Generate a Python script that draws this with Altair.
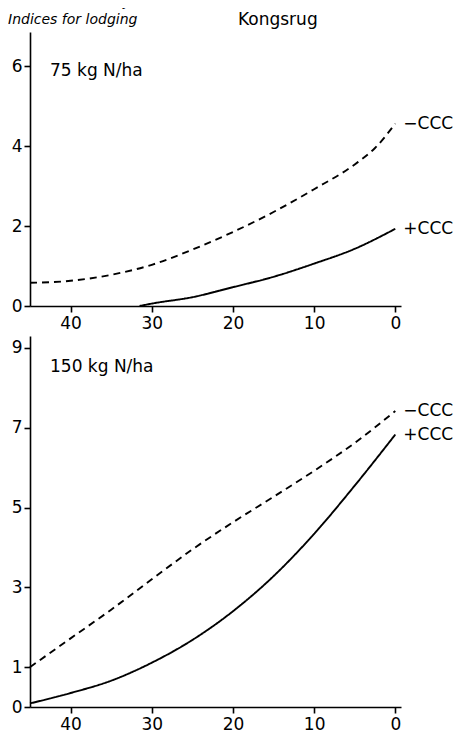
import altair as alt
import pandas as pd

# ---- data ----
x_pts = [45, 40, 35, 30, 25, 20, 15, 10, 5, 0]
top_minus_x = [45, 40, 35, 30, 25, 20, 15, 10, 5, 2.5, 0]
top_minus = [0.58, 0.63, 0.78, 1.03, 1.41, 1.85, 2.35, 2.92, 3.54, 3.95, 4.56]
top_plus_x = [31.5, 30, 25, 20, 15, 10, 5, 0]
top_plus = [0.0, 0.06, 0.22, 0.47, 0.73, 1.06, 1.43, 1.93]
bot_minus = [1.00, 1.72, 2.44, 3.20, 3.95, 4.63, 5.27, 5.92, 6.62, 7.42]
bot_plus = [0.09, 0.35, 0.66, 1.11, 1.68, 2.40, 3.28, 4.34, 5.55, 6.83]
x_ticks = [40, 30, 20, 10, 0]
y_ticks_top = [0, 2, 4, 6]
y_ticks_bot = [0, 1, 3, 5, 7, 9]
series = ["−CCC", "+CCC"]

FONT = "DejaVu Sans"
W = 371
H_TOP = 274
H_BOT = 371

top_df = pd.DataFrame(
    {"x": top_minus_x + top_plus_x,
     "y": top_minus + top_plus,
     "s": [series[0]] * len(top_minus_x) + [series[1]] * len(top_plus_x)}
)
bot_df = pd.DataFrame(
    {"x": x_pts + x_pts,
     "y": bot_minus + bot_plus,
     "s": [series[0]] * len(x_pts) + [series[1]] * len(x_pts)}
)
top_end = pd.DataFrame({"x": [0, 0], "y": [top_minus[-1], top_plus[-1]], "s": series})
bot_end = pd.DataFrame({"x": [0, 0], "y": [bot_minus[-1], bot_plus[-1]], "s": series})

xscale = alt.Scale(domain=[-0.7, 45], reverse=True, nice=False, zero=False)
xaxis = alt.Axis(values=x_ticks, title=None, format="d")
dash = alt.StrokeDash("s:N", scale=alt.Scale(domain=series, range=[[7, 5], [1, 0]]), legend=None)


def panel(df, end, ymax, yticks, label, height, label_y, extra=None):
    yscale = alt.Scale(domain=[0, ymax], nice=False)
    yaxis = alt.Axis(values=yticks, title=None, format="d")
    base = alt.Chart(df)
    lines = base.mark_line(color="black", strokeWidth=1.9, interpolate="monotone").encode(
        x=alt.X("x:Q", scale=xscale, axis=xaxis),
        y=alt.Y("y:Q", scale=yscale, axis=yaxis),
        strokeDash=dash,
        detail="s:N",
    )
    ends = alt.Chart(end).mark_text(
        align="left", baseline="middle", dx=8, font=FONT, fontSize=17, color="black"
    ).encode(x=alt.X("x:Q", scale=xscale), y=alt.Y("y:Q", scale=yscale), text="s:N")
    lab = alt.Chart(alt.Data(values=[{}])).mark_text(
        text=label, align="left", baseline="middle", font=FONT, fontSize=17, color="black"
    ).encode(x=alt.value(20), y=alt.value(label_y))
    layers = [lines, ends, lab]
    if extra:
        layers += extra
    return alt.layer(*layers).properties(width=W, height=height)


one = alt.Data(values=[{}])
header = [
    alt.Chart(one).mark_text(text="Karakter for lejesæd", align="left", baseline="middle",
                             font=FONT, fontSize=16, color="black").encode(
        x=alt.value(-22), y=alt.value(-31)),
    alt.Chart(one).mark_text(text="Indices for lodging", align="left", baseline="middle",
                             font=FONT, fontSize=14, fontStyle="italic", color="black").encode(
        x=alt.value(-22), y=alt.value(-12)),
    alt.Chart(one).mark_text(text="Kongsrug", align="left", baseline="middle",
                             font=FONT, fontSize=17, color="black").encode(
        x=alt.value(208), y=alt.value(-12)),
]

top = panel(top_df, top_end, 6.85, y_ticks_top, "75 kg N/ha", H_TOP, 39, header)
bot = panel(bot_df, bot_end, 9.3, y_ticks_bot, "150 kg N/ha", H_BOT, 31)

chart = alt.vconcat(top, bot, spacing=5).properties(
    padding={"top": -15, "left": 0, "right": 0, "bottom": 0}
).configure_view(stroke=None).configure_axis(
    grid=False,
    labelFont=FONT,
    labelFontSize=17,
    labelColor="black",
    domainColor="black",
    domainWidth=1.6,
    tickColor="black",
    tickWidth=1.6,
    tickSize=6,
    labelPadding=3,
).configure_axisY(labelPadding=2)

chart.save("out.html", embed_options={"renderer": "svg", "actions": False})
